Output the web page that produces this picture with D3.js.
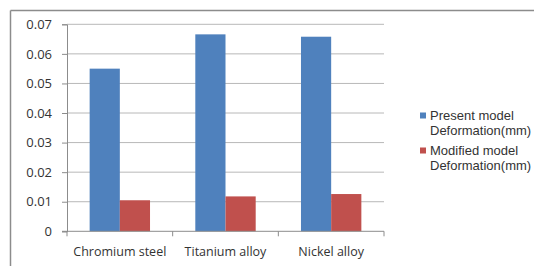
<!DOCTYPE html>
<html>
<head>
<meta charset="utf-8">
<script src="https://cdn.jsdelivr.net/npm/d3@7"></script>
<style>
  body { margin: 0; background: #fff; }
  svg text { font-family: "Open Sans", "Liberation Sans", sans-serif; fill: #333; }
  svg .legend text { font-family: "Liberation Sans", Arial, sans-serif; }
</style>
</head>
<body>
<svg id="chart" width="534" height="266"></svg>
<script>
// data
const categories = ["Chromium steel", "Titanium alloy", "Nickel alloy"];
const seriesNames = ["Present model Deformation(mm)", "Modified model Deformation(mm)"];
const presentValues = [0.055, 0.0666, 0.0658];
const modifiedValues = [0.0105, 0.0118, 0.0126];
const yTicks = [0, 0.01, 0.02, 0.03, 0.04, 0.05, 0.06, 0.07];
const colors = ["#4f81bd", "#c0504d"];

const W = 534, H = 266;
const plot = { left: 67, right: 384, top: 24.3, bottom: 231.3 };

const svg = d3.select("#chart");

// frame (top and left only are visible)
svg.append("line").attr("x1", 10.5).attr("x2", W).attr("y1", 10.5).attr("y2", 10.5)
  .attr("stroke", "#8c8c8c").attr("stroke-width", 1.5);
svg.append("line").attr("x1", 10.5).attr("x2", 10.5).attr("y1", 10.5).attr("y2", H)
  .attr("stroke", "#8c8c8c").attr("stroke-width", 1.5);

const x = d3.scaleBand().domain(categories).range([plot.left, plot.right]);
const x1 = d3.scaleBand().domain([0, 1]).range([0, x.bandwidth()]).paddingOuter(0.75).paddingInner(0);
const y = d3.scaleLinear().domain([0, 0.07]).range([plot.bottom, plot.top]);

// gridlines
svg.append("g").selectAll("line").data(yTicks.filter(d => d > 0)).enter()
  .append("line")
  .attr("x1", plot.left).attr("x2", plot.right)
  .attr("y1", d => y(d)).attr("y2", d => y(d))
  .attr("stroke", "#b8b8b8").attr("stroke-width", 1);

// bars
const groups = svg.append("g").selectAll("g").data(categories).enter()
  .append("g").attr("transform", d => `translate(${x(d)},0)`);

groups.selectAll("rect")
  .data((d, i) => [presentValues[i], modifiedValues[i]])
  .enter().append("rect")
  .attr("x", (d, j) => x1(j))
  .attr("width", x1.bandwidth())
  .attr("y", d => y(d))
  .attr("height", d => y(0) - y(d))
  .attr("fill", (d, j) => colors[j]);

// y axis
const yAxis = d3.axisLeft(y).tickValues(yTicks).tickSize(5).tickPadding(10)
  .tickFormat(d => d === 0 ? "0" : d3.format(".2f")(d));
const gy = svg.append("g").attr("transform", `translate(${plot.left},0)`).call(yAxis);
gy.select(".domain").attr("stroke", "#8c8c8c");
gy.selectAll(".tick line").attr("stroke", "#8c8c8c");
gy.selectAll("text").attr("font-size", 13).style("fill", "#333");

// x axis
const gx = svg.append("g").attr("transform", `translate(0,${plot.bottom})`);
gx.append("line").attr("x1", plot.left - 5).attr("x2", plot.right)
  .attr("stroke", "#8c8c8c");
gx.selectAll(".sep").data(d3.range(categories.length + 1)).enter()
  .append("line")
  .attr("x1", i => plot.left + i * x.bandwidth()).attr("x2", i => plot.left + i * x.bandwidth())
  .attr("y1", 0).attr("y2", 5).attr("stroke", "#8c8c8c");
gx.selectAll("text").data(categories).enter().append("text")
  .attr("x", d => x(d) + x.bandwidth() / 2)
  .attr("y", 20)
  .attr("dy", "0.35em")
  .attr("text-anchor", "middle")
  .attr("font-size", 12.5)
  .text(d => d);

// legend
const legend = svg.append("g").attr("class", "legend").attr("transform", "translate(420,0)");
const legendRows = [["Present model", "Deformation(mm)"], ["Modified model", "Deformation(mm)"]];
legendRows.forEach((lines, i) => {
  const top = 115.5 + i * 35;
  legend.append("rect").attr("x", 0).attr("y", top - 3).attr("width", 6).attr("height", 6)
    .attr("fill", colors[i]);
  lines.forEach((line, k) => {
    legend.append("text").attr("x", 10).attr("y", top + k * 15)
      .attr("dy", "0.35em").attr("font-size", 13)
      .text(line);
  });
});
</script>
</body>
</html>
